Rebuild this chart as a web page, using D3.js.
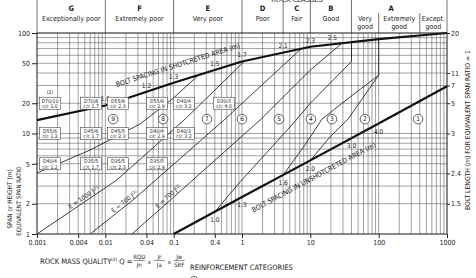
<!DOCTYPE html>
<html>
<head>
<meta charset="utf-8">
<script src="https://cdn.jsdelivr.net/npm/d3@7"></script>
<style>
body { margin: 0; background: #fff; }
svg text { font-family: "Liberation Sans Narrow", "Arial Narrow", "DejaVu Sans Condensed", "Roboto Condensed", sans-serif; fill: #222; }
</style>
</head>
<body>
<div id="chart"></div>
<script>
var W = 476, H = 278;

// axis ticks
var qTicks = [0.001, 0.004, 0.01, 0.04, 0.1, 0.4, 1, 10, 100, 1000];
var spanTicks = [1, 2, 5, 10, 20, 50, 100];
var boltLengthLabels = ["20", "11", "7", "5", "3", "2.4", "1.5"];
var boltLengthSpans = [100, 40, 30, 20, 10, 4, 2];

// rock classes
var classLetters = ["G", "F", "E", "D", "C", "B", "A"];
var classBounds = [0.001, 0.01, 0.1, 1, 4, 10, 40, 1000];
var classNames = ["Exceptionally poor", "Extremely poor", "Very poor", "Poor", "Fair", "Good", ""];
var subClassBounds = [40, 100, 400, 1000];
var subClassNames = [["Very", "good"], ["Extremely", "good"], ["Except.", "good"]];

// thick bolt spacing lines [Q, span]
var shotcreteLine = [[0.001, 13.6], [0.01, 19], [0.1, 32], [1, 52], [10, 73], [100, 87], [1000, 100]];
var unshotLine = [[0.1, 1], [1, 2.33], [10, 5.4], [100, 12.6], [1000, 29.5]];
var shotcreteSpacingQ = [0.01, 0.04, 0.1, 0.4, 1, 4, 10, 21];
var shotcreteSpacing = ["1.0", "1.2", "1.3", "1.5", "1.7", "2.1", "2.3", "2.5"];
var unshotSpacingQ = [0.4, 1, 4, 10, 40, 100];
var unshotSpacing = ["1.0", "1.3", "1.6", "2.0", "3.0", "4.0"];

// reinforcement category boundaries [Q, span]
var categoryLines = [
    [[0.001, 4.05], [0.006, 6.85], [0.032, 12.4], [0.1, 22.6], [0.3, 45]],
    [[0.001, 1], [0.0148, 3.45], [0.147, 13.9], [1.5, 65]],
    [[0.006, 1], [0.0254, 2.18], [0.564, 13.9], [12, 95]],
    [[0.0245, 1], [0.1, 2.33], [1.9, 13.9], [10, 42.8], [40, 95]],
    [[0.4, 1.66], [0.935, 3.3], [2.57, 7], [5.97, 13.2], [10, 20], [40, 52], [40, 100]],
    [[4, 3.87], [8.36, 7.69], [14.8, 13.9], [38, 23], [100, 38], [100, 100]],
    [[10, 5.4], [19.4, 9.23], [35.6, 13.9], [100, 38]]
];
var energyLabels = ["E = 1000 J", "E = 700 J", "E = 700 J"];
var energyLine = [1, 2, 3];
var energyQ = [0.0052, 0.0208, 0.0915];

var categoryNums = [9, 8, 7, 6, 5, 4, 3, 2, 1];
var categoryQ = [0.013, 0.07, 0.307, 1, 3.48, 10.2, 20.7, 63, 377];
var categorySpan = 13.9;

// RRS boxes
var boxQ = [0.00155, 0.0062, 0.0153, 0.057, 0.141, 0.546];
var boxSpan = [20, 10, 5];
var boxTop = [["D70/10", "D55/6", "D40/4"], ["D70/8", "D45/6", "D35/5"], ["D55/6", "D45/5", "D35/5"],
              ["D55/6", "D40/4", "D35/5"], ["D40/4", "D40/3"], ["D30/3"]];
var boxBottom = [["c/c 1.0", "c/c 1.2", "c/c 1.2"], ["c/c 1.7", "c/c 1.7", "c/c 1.7"], ["c/c 2.3", "c/c 2.3", "c/c 2.3"],
                 ["c/c 2.9", "c/c 2.9", "c/c 2.9"], ["c/c 3.2", "c/c 3.2"], ["c/c 4.0"]];

var x = d3.scaleLog().domain([0.001, 1000]).range([37, 447]);
var y = d3.scaleLog().domain([1, 100]).range([234, 33]);

var svg = d3.select("#chart").append("svg").attr("width", W).attr("height", H);
var lineGen = d3.line().x(function(d){ return x(d[0]); }).y(function(d){ return y(d[1]); });

function spanAt(pts, q){
    var lq = Math.log10(q);
    for (var i = 0; i < pts.length - 1; i++){
        var la = Math.log10(pts[i][0]), lb = Math.log10(pts[i+1][0]);
        if (lb > la && lq >= la && lq <= lb){
            var t = (lq - la) / (lb - la);
            return Math.pow(10, Math.log10(pts[i][1]) + t * (Math.log10(pts[i+1][1]) - Math.log10(pts[i][1])));
        }
    }
    return pts[pts.length-1][1];
}
function angleAt(pts, q1, q2){
    var a = [x(q1), y(spanAt(pts, q1))], b = [x(q2), y(spanAt(pts, q2))];
    return Math.atan2(b[1]-a[1], b[0]-a[0]) * 180 / Math.PI;
}

// grid
var grid = svg.append("g").attr("stroke", "#555").attr("stroke-width", 0.55);
grid.selectAll("line.v").data(x.ticks()).enter().append("line").attr("class", "v")
    .attr("x1", function(d){ return x(d); }).attr("x2", function(d){ return x(d); })
    .attr("y1", y(100)).attr("y2", y(1));
grid.selectAll("line.h").data(y.ticks()).enter().append("line").attr("class", "h")
    .attr("y1", function(d){ return y(d); }).attr("y2", function(d){ return y(d); })
    .attr("x1", x(0.001)).attr("x2", x(1000));

// header
var header = svg.append("g");
header.selectAll("line.cls").data(classBounds).enter().append("line").attr("class", "cls")
    .attr("x1", function(d){ return x(d); }).attr("x2", function(d){ return x(d); })
    .attr("y1", 0).attr("y2", y(100)).attr("stroke", "#333").attr("stroke-width", 0.7);
header.selectAll("line.sub").data(subClassBounds.slice(1, -1)).enter().append("line").attr("class", "sub")
    .attr("x1", function(d){ return x(d); }).attr("x2", function(d){ return x(d); })
    .attr("y1", 13).attr("y2", y(100)).attr("stroke", "#333").attr("stroke-width", 0.7);
header.append("text").attr("x", 297).attr("y", 2).attr("text-anchor", "middle").attr("font-size", 7.5).text("ROCK CLASSES");
classLetters.forEach(function(l, i){
    var cx = (x(classBounds[i]) + x(classBounds[i+1])) / 2;
    if (l === "A") cx = (x(40) + x(1000)) / 2 - 8;
    header.append("text").attr("x", cx).attr("y", 10.5).attr("text-anchor", "middle")
        .attr("font-size", 7.5).attr("font-weight", "bold").text(l);
    if (classNames[i]) header.append("text").attr("x", cx).attr("y", 20.5).attr("text-anchor", "middle")
        .attr("font-size", 7).text(classNames[i]);
});
subClassNames.forEach(function(n, i){
    var cx = (x(subClassBounds[i]) + x(subClassBounds[i+1])) / 2;
    n.forEach(function(t, j){
        header.append("text").attr("x", cx).attr("y", 20.5 + j * 8).attr("text-anchor", "middle")
            .attr("font-size", 7).text(t);
    });
});

// category boundaries, clipped between the two bolt lines
var region = [[0.001, 1]].concat(unshotLine, shotcreteLine.slice().reverse());
svg.append("defs").append("clipPath").attr("id", "between").append("path").attr("d", lineGen(region) + "Z");
svg.append("g").attr("clip-path", "url(#between)")
    .selectAll("path").data(categoryLines).enter().append("path")
    .attr("d", lineGen).attr("fill", "none").attr("stroke", "#111").attr("stroke-width", 0.8);

// thick lines
svg.selectAll("path.thick").data([shotcreteLine, unshotLine]).enter().append("path").attr("class", "thick")
    .attr("d", lineGen).attr("fill", "none").attr("stroke", "#111").attr("stroke-width", 2.2);

// bolt spacing values
shotcreteSpacingQ.forEach(function(q, i){
    svg.append("text").attr("x", x(q)).attr("y", y(spanAt(shotcreteLine, q)) - 6.5).attr("dy", "0.35em")
        .attr("text-anchor", "middle").attr("font-size", 6.5).text(shotcreteSpacing[i]);
});
unshotSpacingQ.forEach(function(q, i){
    svg.append("text").attr("x", x(q)).attr("y", y(spanAt(unshotLine, q)) + 8).attr("dy", "0.35em")
        .attr("text-anchor", "middle").attr("font-size", 6.5).text(unshotSpacing[i]);
});

function textAlong(pts, q1, q2, offset, txt){
    var p1 = [x(q1), y(spanAt(pts, q1))], p2 = [x(q2), y(spanAt(pts, q2))];
    var ang = Math.atan2(p2[1]-p1[1], p2[0]-p1[0]) * 180 / Math.PI;
    svg.append("text").attr("transform", "translate(" + (p1[0]+p2[0])/2 + "," + (p1[1]+p2[1])/2 + ") rotate(" + ang + ")")
        .attr("y", offset).attr("text-anchor", "middle").attr("font-size", 7).text(txt);
}
textAlong(shotcreteLine, 0.0175, 1.07, -14, "BOLT SPACING IN SHOTCRETED AREA (m)");
textAlong(unshotLine, 1.18, 63, 19, "BOLT SPACING IN UNSHOTCRETED AREA (m)");

// energy labels on the boundaries
energyLabels.forEach(function(t, i){
    var pts = categoryLines[energyLine[i]], q = energyQ[i];
    var ang = angleAt(pts, q / 1.3, q * 1.3);
    var tx = svg.append("text").attr("transform", "translate(" + x(q) + "," + y(spanAt(pts, q)) + ") rotate(" + ang + ")")
        .attr("y", -2).attr("text-anchor", "middle").attr("font-size", 6.3);
    tx.append("tspan").text(t);
    tx.append("tspan").attr("dy", -2).attr("font-size", 4.2).text("(1)");
});

// RRS boxes
var boxes = [];
boxQ.forEach(function(q, i){
    boxTop[i].forEach(function(t, j){ boxes.push({q: q, s: boxSpan[j], t: t, b: boxBottom[i][j]}); });
});
var bg = svg.selectAll("g.box").data(boxes).enter().append("g").attr("class", "box")
    .attr("transform", function(d){ return "translate(" + x(d.q) + "," + y(d.s) + ")"; });
bg.append("rect").attr("x", -10.5).attr("y", -6).attr("width", 21).attr("height", 12)
    .attr("fill", "#fff").attr("stroke", "#444").attr("stroke-width", 0.6);
bg.append("text").attr("y", -0.6).attr("text-anchor", "middle").attr("font-size", 5.2).text(function(d){ return d.t; });
bg.append("text").attr("y", 4.8).attr("text-anchor", "middle").attr("font-size", 5.2).text(function(d){ return d.b; });
svg.append("text").attr("x", x(boxQ[0])).attr("y", y(20) - 9).attr("text-anchor", "middle").attr("font-size", 5).text("(2)");

// category numbers
var cg = svg.selectAll("g.cat").data(categoryNums).enter().append("g").attr("class", "cat")
    .attr("transform", function(d, i){ return "translate(" + x(categoryQ[i]) + "," + y(categorySpan) + ")"; });
cg.append("circle").attr("r", 4.8).attr("fill", "#fff").attr("stroke", "#222").attr("stroke-width", 0.7);
cg.append("text").attr("dy", "0.36em").attr("text-anchor", "middle").attr("font-size", 6.5).text(function(d){ return d; });

// border
svg.append("rect").attr("x", x(0.001)).attr("y", y(100)).attr("width", x(1000) - x(0.001)).attr("height", y(1) - y(100))
    .attr("fill", "none").attr("stroke", "#222").attr("stroke-width", 0.8);

// axes
function styleAxis(g){ g.select(".domain").remove(); g.attr("font-size", 7).attr("color", "#222"); }
svg.append("g").attr("transform", "translate(" + x(0.001) + ",0)")
    .call(d3.axisLeft(y).tickValues(spanTicks).tickFormat(d3.format("")).tickSize(5).tickPadding(2)).call(styleAxis);
svg.append("g").attr("transform", "translate(0," + y(1) + ")")
    .call(d3.axisBottom(x).tickValues(qTicks).tickFormat(d3.format("~g")).tickSize(4).tickPadding(2)).call(styleAxis);
svg.append("g").attr("transform", "translate(" + x(1000) + ",0)")
    .call(d3.axisRight(y).tickValues(boltLengthSpans).tickFormat(function(d, i){ return boltLengthLabels[i]; }).tickSize(3).tickPadding(1)).call(styleAxis);

// axis titles
svg.append("text").attr("transform", "translate(468,130) rotate(-90)").attr("text-anchor", "middle")
    .attr("dy", "0.35em").attr("font-size", 6.8).text("BOLT LENGTH (m) FOR EQUIVALENT SPAN RATIO = 1");
svg.append("text").attr("transform", "translate(10,199) rotate(-90)").attr("text-anchor", "middle")
    .attr("dy", "0.35em").attr("font-size", 6.5).text("SPAN or HEIGHT (m)");
svg.append("text").attr("transform", "translate(18.5,201) rotate(-90)").attr("text-anchor", "middle")
    .attr("dy", "0.35em").attr("font-size", 6.2).text("EQUIVALENT SPAN RATIO");

// Q formula
var fx = 40;
var qt = svg.append("text").attr("x", fx).attr("y", 264).attr("font-size", 7.5);
qt.append("tspan").text("ROCK MASS QUALITY");
qt.append("tspan").attr("dy", -3).attr("font-size", 4.5).text("(3)");
qt.append("tspan").attr("dy", 3).text(" Q =");
fx += qt.node().getComputedTextLength() + 7;
var fracs = [["RQD", "Jn"], ["Jr", "Ja"], ["Jw", "SRF"]];
fracs.forEach(function(f, i){
    svg.append("text").attr("x", fx).attr("y", 259).attr("text-anchor", "middle").attr("font-size", 6).text(f[0]);
    svg.append("text").attr("x", fx).attr("y", 267).attr("text-anchor", "middle").attr("font-size", 6).text(f[1]);
    svg.append("line").attr("x1", fx - 5.5).attr("x2", fx + 5.5).attr("y1", 260.5).attr("y2", 260.5).attr("stroke", "#222").attr("stroke-width", 0.5);
    if (i < 2) svg.append("text").attr("x", fx + 10).attr("y", 263.5).attr("text-anchor", "middle").attr("font-size", 6).text("x");
    fx += 20;
});

svg.append("text").attr("x", 190).attr("y", 270).attr("font-size", 7.5).text("REINFORCEMENT CATEGORIES");
svg.append("circle").attr("cx", 194).attr("cy", 281).attr("r", 4.5).attr("fill", "#fff").attr("stroke", "#222").attr("stroke-width", 0.7);
svg.append("text").attr("x", 194).attr("y", 283).attr("text-anchor", "middle").attr("font-size", 6.5).text("1");
svg.append("text").attr("x", 202).attr("y", 284).attr("font-size", 7.5).text("Unsupported");
</script>
</body>
</html>
